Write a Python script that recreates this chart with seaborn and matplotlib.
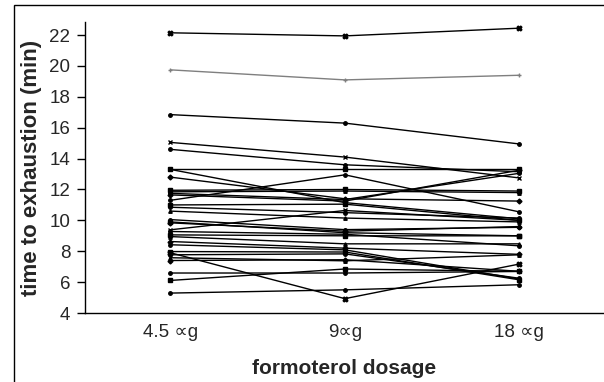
import numpy as np
import pandas as pd
import matplotlib
matplotlib.use("Agg")
import matplotlib.pyplot as plt
import seaborn as sns
from matplotlib.patches import Rectangle

# ---- data ----
dose_labels = ["4.5 \u221dg", "9\u221dg", "18 \u221dg"]
dose_pos = [0, 1, 2]

t_45 = [22.15, 19.75, 16.85, 15.05, 14.60, 13.30, 13.30, 12.80, 11.30, 11.95,
        11.85, 11.75, 11.65, 11.00, 10.85, 10.60, 10.05, 9.90, 9.84, 9.39,
        9.28, 9.06, 8.95, 8.63, 8.42, 7.98, 7.90, 7.77, 7.58, 7.40,
        6.59, 6.11, 5.29]
t_9 = [21.95, 19.10, 16.30, 14.10, 13.60, 13.30, 11.15, 11.40, 12.95, 12.00,
       11.90, 11.35, 11.25, 11.05, 10.50, 10.15, 9.40, 9.20, 9.30, 10.64,
       9.10, 9.00, 8.48, 8.20, 8.09, 7.95, 4.93, 7.83, 7.38, 7.45,
       6.59, 6.85, 5.50]
t_18 = [22.45, 19.40, 14.95, 12.75, 13.15, 13.30, 10.10, 11.25, 10.55, 11.90,
        11.80, 13.05, 13.25, 10.00, 10.15, 9.90, 9.55, 9.00, 9.60, 10.00,
        8.35, 9.00, 8.48, 7.80, 6.20, 6.15, 7.17, 6.25, 7.77, 6.70,
        6.69, 6.70, 5.83]

# ---- styles ----
subject_markers = ["X", "+", "o", "x", "o", "s", "^", "D", "o", "s",
                   "^", "o", "D", "s", "o", "^", "o", "s", "D", "x",
                   "o", "s", "^", "D", "o", "s", "X", "o", "^", "D",
                   "o", "s", "o"]
subject_colors = ["black"] * len(t_45)
subject_colors[1] = "#7f7f7f"

n = len(t_45)
rows = []
for i in range(n):
    for p, vals in zip(dose_pos, (t_45, t_9, t_18)):
        rows.append({"subject": i, "dose": p, "time": vals[i]})
df = pd.DataFrame(rows)

sns.set_theme(style="white")
plt.rcParams["font.family"] = ["Liberation Sans", "DejaVu Sans"]

fig = plt.figure(figsize=(6.04, 3.82), dpi=100)
ax = fig.add_axes([85 / 604, 69 / 382, 518 / 604, 291 / 382])

for i in range(n):
    sub = df[df["subject"] == i]
    big = subject_markers[i] in ("X", "x")
    sns.lineplot(data=sub, x="dose", y="time", color=subject_colors[i],
                 marker=subject_markers[i], markersize=3.5 if big else 2.5,
                 markeredgewidth=1.0, markeredgecolor=subject_colors[i],
                 linewidth=1.0, legend=False, ax=ax, sort=False)

ax.set_xlim(-0.49, 2.48)
ax.set_ylim(4, 22.85)
ax.set_yticks(range(4, 23, 2))
ax.set_xticks(dose_pos)
ax.set_xticklabels(dose_labels)

for s in ["top", "right"]:
    ax.spines[s].set_visible(False)
for s in ["left", "bottom"]:
    ax.spines[s].set_color("black")
    ax.spines[s].set_linewidth(1.0)

ax.tick_params(axis="y", direction="out", length=5.5, width=1, color="black",
               labelsize=13.5, pad=5, left=True)
ax.tick_params(axis="x", length=0, labelsize=13.5, pad=8)

ax.set_ylabel("time to exhaustion (min)", fontsize=16, fontweight="bold",
              labelpad=5)
ax.set_xlabel("formoterol dosage", fontsize=15, fontweight="bold", labelpad=13)

fig.add_artist(Rectangle((14 / 604, -0.2), 2.0, (382 - 5) / 382 + 0.2,
                         transform=fig.transFigure, fill=False,
                         edgecolor="black", linewidth=1.0))

fig.savefig("out.png", dpi=100)
